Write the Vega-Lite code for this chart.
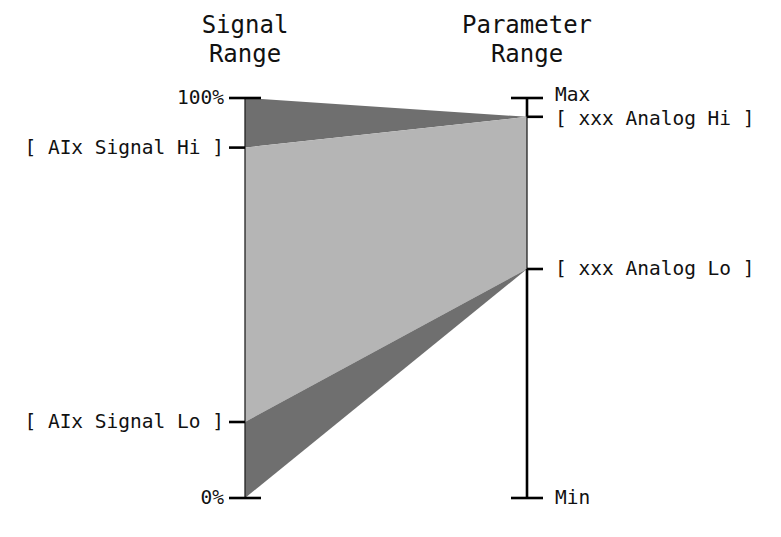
{
  "$schema": "https://vega.github.io/schema/vega-lite/v6.json",
  "autosize": "none",
  "width": 282,
  "height": 400,
  "padding": {"left": 245, "top": 98, "right": 254, "bottom": 39},
  "background": "white",
  "config": {"view": {"stroke": null}},
  "datasets": {
    "regions": [
      {"shape": "top", "pos": 0, "hi": 100, "lo": 87.6},
      {"shape": "top", "pos": 1, "hi": 95.3, "lo": 95.3},
      {"shape": "mid", "pos": 0, "hi": 87.6, "lo": 19},
      {"shape": "mid", "pos": 1, "hi": 95.3, "lo": 57.25},
      {"shape": "bot", "pos": 0, "hi": 19, "lo": 0},
      {"shape": "bot", "pos": 1, "hi": 57.25, "lo": 57.25}
    ],
    "marks": [
      {"side": "left", "kind": "full", "pos": 0, "value": 100, "label": "100%"},
      {"side": "left", "kind": "half", "pos": 0, "value": 87.6, "label": "[ AIx Signal Hi ]"},
      {"side": "left", "kind": "half", "pos": 0, "value": 19, "label": "[ AIx Signal Lo ]"},
      {"side": "left", "kind": "full", "pos": 0, "value": 0, "label": "0%"},
      {"side": "right", "kind": "full", "pos": 1, "value": 100, "label": "Max"},
      {"side": "right", "kind": "half", "pos": 1, "value": 95.3, "label": "[ xxx Analog Hi ]"},
      {"side": "right", "kind": "half", "pos": 1, "value": 57.25, "label": "[ xxx Analog Lo ]"},
      {"side": "right", "kind": "full", "pos": 1, "value": 0, "label": "Min"}
    ],
    "lines": [
      {"pos": 0, "from": 0, "to": 100, "weight": "thin"},
      {"pos": 1, "from": 95.3, "to": 100, "weight": "thick"},
      {"pos": 1, "from": 57.25, "to": 95.3, "weight": "thin"},
      {"pos": 1, "from": 0, "to": 57.25, "weight": "thick"}
    ],
    "titles": [
      {"pos": 0, "line": 116.25, "text": "Signal"},
      {"pos": 0, "line": 109, "text": "Range"},
      {"pos": 1, "line": 116.25, "text": "Parameter"},
      {"pos": 1, "line": 109, "text": "Range"}
    ]
  },
  "layer": [
    {
      "data": {"name": "regions"},
      "mark": {"type": "area", "opacity": 1, "interpolate": "linear"},
      "encoding": {
        "x": {"field": "pos", "type": "quantitative", "scale": {"domain": [0, 1], "nice": false, "zero": false}, "axis": null},
        "y": {"field": "hi", "type": "quantitative", "scale": {"domain": [0, 100], "nice": false}, "axis": null},
        "y2": {"field": "lo"},
        "detail": {"field": "shape"},
        "color": {"field": "shape", "type": "nominal", "scale": {"domain": ["top", "mid", "bot"], "range": ["#6f6f6f", "#b5b5b5", "#6f6f6f"]}, "legend": null}
      }
    },
    {
      "data": {"name": "lines"},
      "transform": [{"filter": "datum.weight === 'thin'"}],
      "mark": {"type": "rule", "color": "#222", "strokeWidth": 1.3},
      "encoding": {
        "x": {"field": "pos", "type": "quantitative"},
        "y": {"field": "from", "type": "quantitative"},
        "y2": {"field": "to"}
      }
    },
    {
      "data": {"name": "lines"},
      "transform": [{"filter": "datum.weight === 'thick'"}],
      "mark": {"type": "rule", "color": "black", "strokeWidth": 2.6},
      "encoding": {
        "x": {"field": "pos", "type": "quantitative"},
        "y": {"field": "from", "type": "quantitative"},
        "y2": {"field": "to"}
      }
    },
    {
      "data": {"name": "marks"},
      "transform": [{"filter": "datum.kind === 'full'"}],
      "mark": {"type": "tick", "orient": "horizontal", "size": 32, "thickness": 2.6, "color": "black", "opacity": 1},
      "encoding": {
        "x": {"field": "pos", "type": "quantitative"},
        "y": {"field": "value", "type": "quantitative"}
      }
    },
    {
      "data": {"name": "marks"},
      "transform": [{"filter": "datum.kind === 'half' && datum.side === 'left'"}],
      "mark": {"type": "tick", "orient": "horizontal", "size": 16, "thickness": 2.6, "xOffset": -8, "color": "black", "opacity": 1},
      "encoding": {
        "x": {"field": "pos", "type": "quantitative"},
        "y": {"field": "value", "type": "quantitative"}
      }
    },
    {
      "data": {"name": "marks"},
      "transform": [{"filter": "datum.kind === 'half' && datum.side === 'right'"}],
      "mark": {"type": "tick", "orient": "horizontal", "size": 16, "thickness": 2.6, "xOffset": 8, "color": "black", "opacity": 1},
      "encoding": {
        "x": {"field": "pos", "type": "quantitative"},
        "y": {"field": "value", "type": "quantitative"}
      }
    },
    {
      "data": {"name": "marks"},
      "transform": [{"filter": "datum.side === 'left'"}],
      "mark": {"type": "text", "align": "right", "baseline": "middle", "dx": -21, "font": "DejaVu Sans Mono", "fontSize": 19.5, "color": "#111"},
      "encoding": {
        "x": {"field": "pos", "type": "quantitative"},
        "y": {"field": "value", "type": "quantitative"},
        "text": {"field": "label"}
      }
    },
    {
      "data": {"name": "marks"},
      "transform": [{"filter": "datum.side === 'right' && datum.label !== 'Max' && datum.label !== '[ xxx Analog Hi ]'"}],
      "mark": {"type": "text", "align": "left", "baseline": "middle", "dx": 28, "font": "DejaVu Sans Mono", "fontSize": 19.5, "color": "#111"},
      "encoding": {
        "x": {"field": "pos", "type": "quantitative"},
        "y": {"field": "value", "type": "quantitative"},
        "text": {"field": "label"}
      }
    },
    {
      "data": {"name": "marks"},
      "transform": [{"filter": "datum.label === 'Max'"}],
      "mark": {"type": "text", "align": "left", "baseline": "middle", "dx": 28, "dy": -3, "font": "DejaVu Sans Mono", "fontSize": 19.5, "color": "#111"},
      "encoding": {
        "x": {"field": "pos", "type": "quantitative"},
        "y": {"field": "value", "type": "quantitative"},
        "text": {"field": "label"}
      }
    },
    {
      "data": {"name": "marks"},
      "transform": [{"filter": "datum.label === '[ xxx Analog Hi ]'"}],
      "mark": {"type": "text", "align": "left", "baseline": "middle", "dx": 28, "dy": 2, "font": "DejaVu Sans Mono", "fontSize": 19.5, "color": "#111"},
      "encoding": {
        "x": {"field": "pos", "type": "quantitative"},
        "y": {"field": "value", "type": "quantitative"},
        "text": {"field": "label"}
      }
    },
    {
      "data": {"name": "titles"},
      "mark": {"type": "text", "align": "center", "baseline": "alphabetic", "font": "DejaVu Sans Mono", "fontSize": 24, "color": "#111"},
      "encoding": {
        "x": {"field": "pos", "type": "quantitative"},
        "y": {"field": "line", "type": "quantitative"},
        "text": {"field": "text"}
      }
    }
  ]
}
